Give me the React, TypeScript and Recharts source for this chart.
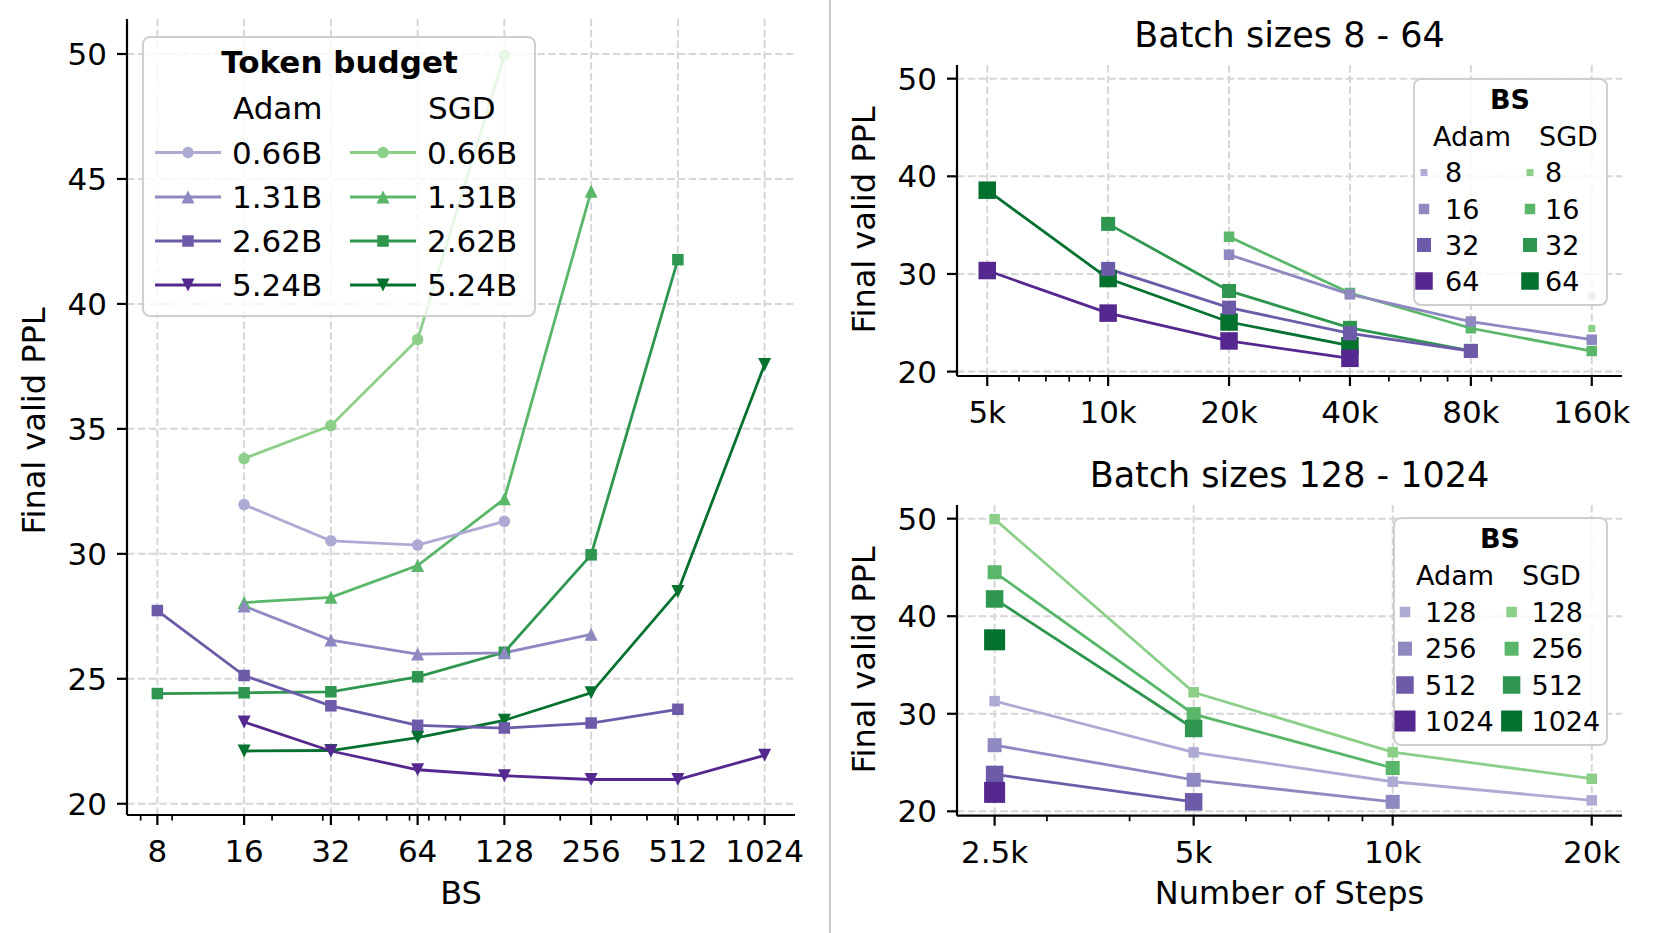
import React from 'react';
import { LineChart, Line, XAxis, YAxis, CartesianGrid } from 'recharts';

const FONT = '"DejaVu Sans", Verdana, sans-serif';
const TICK_FS = 31;
const GRID = '#d6d6d6';
const DASH = '7.5 3.3';

const ADAM_COLORS = ['#adabd3', '#8e89c1', '#6d5ba9', '#55288f'];
const SGD_COLORS = ['#8bcf89', '#5ab769', '#2e964f', '#05712f'];

// ---------- Left panel: PPL vs batch size ----------
const batchSizes = [8, 16, 32, 64, 128, 256, 512, 1024];
const batchMinorTicks = [7, 9, 20, 30, 40, 50, 60, 70, 80, 90, 200, 300, 400, 500, 600, 700, 800, 900];
const budgetLabels = ['0.66B', '1.31B', '2.62B', '5.24B'];
const pplTicks = [20, 25, 30, 35, 40, 45, 50];
const pplTicksRight = [20, 30, 40, 50];

const adamPPL066 = [null, 31.97, 30.52, 30.35, 31.3, null, null, null];
const adamPPL131 = [null, 27.91, 26.55, 25.99, 26.04, 26.78, null, null];
const adamPPL262 = [27.73, 25.13, 23.92, 23.14, 23.03, 23.23, 23.78, null];
const adamPPL524 = [null, 23.27, 22.11, 21.36, 21.12, 20.97, 20.97, 21.94];
const sgdPPL066 = [null, 33.81, 35.13, 38.58, 49.95, null, null, null];
const sgdPPL131 = [null, 28.05, 28.26, 29.53, 32.2, 44.51, null, null];
const sgdPPL262 = [24.41, 24.44, 24.48, 25.08, 26.06, 29.96, 41.77, null];
const sgdPPL524 = [null, 22.11, 22.13, 22.65, 23.34, 24.44, 28.49, 37.58];

const adamBudgetSeries = [adamPPL066, adamPPL131, adamPPL262, adamPPL524];
const sgdBudgetSeries = [sgdPPL066, sgdPPL131, sgdPPL262, sgdPPL524];

// ---------- Top right: batch sizes 8 - 64 ----------
const stepsTop = [5000, 10000, 20000, 40000, 80000, 160000];
const stepsTopLabels = ['5k', '10k', '20k', '40k', '80k', '160k'];
const stepsTopMinor = [6000, 7000, 8000, 9000, 30000, 50000, 60000, 70000, 90000];
const bsTop = ['8', '16', '32', '64'];
const adamTopBS8 = [null, null, null, null, null, 27.73];
const adamTopBS16 = [null, null, 31.97, 27.91, 25.13, 23.27];
const adamTopBS32 = [null, 30.52, 26.55, 23.92, 22.11, null];
const adamTopBS64 = [30.35, 25.99, 23.14, 21.36, null, null];
const sgdTopBS8 = [null, null, null, null, null, 24.41];
const sgdTopBS16 = [null, null, 33.81, 28.05, 24.44, 22.11];
const sgdTopBS32 = [null, 35.13, 28.26, 24.48, 22.13, null];
const sgdTopBS64 = [38.58, 29.53, 25.08, 22.65, null, null];

// ---------- Bottom right: batch sizes 128 - 1024 ----------
const stepsBottom = [2500, 5000, 10000, 20000];
const stepsBottomLabels = ['2.5k', '5k', '10k', '20k'];
const stepsBottomMinor = [3000, 4000, 6000, 7000, 8000, 9000];
const bsBottom = ['128', '256', '512', '1024'];
const adamBotBS128 = [31.3, 26.04, 23.03, 21.12];
const adamBotBS256 = [26.78, 23.23, 20.97, null];
const adamBotBS512 = [23.78, 20.97, null, null];
const adamBotBS1024 = [21.94, null, null, null];
const sgdBotBS128 = [49.95, 32.2, 26.06, 23.34];
const sgdBotBS256 = [44.51, 29.96, 24.44, null];
const sgdBotBS512 = [41.77, 28.49, null, null];
const sgdBotBS1024 = [37.58, null, null, null];

// styling (not data)
const budgetShapes = ['circle', 'triangle', 'square', 'triangleDown'];
const budgetMarkerSize = [11.5, 13, 11.5, 13];
const squareSizes = [7, 10.5, 14, 17.5];
const squareSizesBottom = [10.5, 14, 17.5, 21];
const Y_DOMAIN: [number, number] = [19.55, 51.4];

function Marker({ shape, cx, cy, size, color }: any) {
  const h = size / 2;
  if (shape === 'circle') return <circle cx={cx} cy={cy} r={h} fill={color} />;
  if (shape === 'square') return <rect x={cx - h} y={cy - h} width={size} height={size} fill={color} />;
  if (shape === 'triangle')
    return <polygon points={`${cx},${cy - h} ${cx - h},${cy + h} ${cx + h},${cy + h}`} fill={color} />;
  return <polygon points={`${cx},${cy + h} ${cx - h},${cy - h} ${cx + h},${cy - h}`} fill={color} />;
}

const dotRenderer = (shape: string, size: number, color: string) => (p: any) => {
  const k = `d${p.index}`;
  if (p.cx == null || p.cy == null || p.value == null || Number.isNaN(p.cy)) return <g key={k} />;
  return (
    <g key={k}>
      <Marker shape={shape} cx={p.cx} cy={p.cy} size={size} color={color} />
    </g>
  );
};

const makeXTick = (major: number[], labels: string[]) => (props: any) => {
  const { x, y, payload } = props;
  const idx = major.indexOf(payload.value);
  const isMajor = idx >= 0;
  return (
    <g>
      <line x1={x} x2={x} y1={y} y2={y + (isMajor ? 10 : 5.6)} stroke="#000" strokeWidth={isMajor ? 2.2 : 1.7} />
      {isMajor && (
        <text x={x} y={y + 47} textAnchor="middle" fontSize={TICK_FS} fontFamily={FONT} fill="#000">
          {labels[idx]}
        </text>
      )}
    </g>
  );
};

const yAxisProps = {
  type: 'number' as const,
  domain: Y_DOMAIN,
  allowDataOverflow: true,
  width: 60,
  tickSize: 10,
  tickMargin: 10,
  tick: { fontSize: TICK_FS, fill: '#000', fontFamily: FONT },
  tickLine: { stroke: '#000', strokeWidth: 2.2 },
  axisLine: { stroke: '#000', strokeWidth: 2.2 },
};

function toSeries(steps: number[], vals: (number | null)[]) {
  return steps.map((s, i) => ({ steps: s, ppl: vals[i] })).filter((d) => d.ppl != null);
}

function LeftChart() {
  const rows = batchSizes.map((bs, i) => {
    const r: any = { bs };
    adamBudgetSeries.forEach((s, j) => (r[`adam${j}`] = s[i]));
    sgdBudgetSeries.forEach((s, j) => (r[`sgd${j}`] = s[i]));
    return r;
  });
  const lo = 8 / Math.pow(2, 0.35);
  const hi = 1024 * Math.pow(2, 0.35);
  return (
    <LineChart width={830} height={933} data={rows} margin={{ top: 19, right: 35, bottom: 88, left: 67 }}>
      <CartesianGrid stroke={GRID} strokeDasharray={DASH} strokeWidth={2} verticalValues={batchSizes} horizontalValues={pplTicks} />
      <XAxis
        dataKey="bs"
        type="number"
        scale="log"
        domain={[lo, hi]}
        allowDataOverflow
        ticks={[...batchSizes, ...batchMinorTicks]}
        interval={0}
        tickSize={0}
        tickMargin={0}
        tickLine={false}
        tick={makeXTick(batchSizes, batchSizes.map(String))}
        axisLine={{ stroke: '#000', strokeWidth: 2.2 }}
        height={30}
      />
      <YAxis {...yAxisProps} ticks={pplTicks} />
      {sgdBudgetSeries.map((_, j) => (
        <Line
          key={`sgd${j}`}
          dataKey={`sgd${j}`}
          stroke={SGD_COLORS[j]}
          strokeWidth={2.8}
          isAnimationActive={false}
          activeDot={false}
          dot={dotRenderer(budgetShapes[j], budgetMarkerSize[j], SGD_COLORS[j])}
        />
      ))}
      {adamBudgetSeries.map((_, j) => (
        <Line
          key={`adam${j}`}
          dataKey={`adam${j}`}
          stroke={ADAM_COLORS[j]}
          strokeWidth={2.8}
          isAnimationActive={false}
          activeDot={false}
          dot={dotRenderer(budgetShapes[j], budgetMarkerSize[j], ADAM_COLORS[j])}
        />
      ))}
    </LineChart>
  );
}

function StepsChart({
  width, height, margin, steps, stepLabels, minor, domain, adam, sgd, sizes,
}: any) {
  return (
    <LineChart width={width} height={height} margin={margin}>
      <CartesianGrid stroke={GRID} strokeDasharray={DASH} strokeWidth={2} verticalValues={steps} horizontalValues={pplTicksRight} />
      <XAxis
        dataKey="steps"
        type="number"
        scale="log"
        domain={domain}
        allowDataOverflow
        ticks={[...steps, ...minor]}
        interval={0}
        tickSize={0}
        tickMargin={0}
        tickLine={false}
        tick={makeXTick(steps, stepLabels)}
        axisLine={{ stroke: '#000', strokeWidth: 2.2 }}
        height={30}
      />
      <YAxis {...yAxisProps} ticks={pplTicksRight} />
      {sgd.map((vals: any, j: number) => (
        <Line
          key={`sgd${j}`}
          data={toSeries(steps, vals)}
          dataKey="ppl"
          stroke={SGD_COLORS[j]}
          strokeWidth={2.8}
          isAnimationActive={false}
          activeDot={false}
          dot={dotRenderer('square', sizes[j], SGD_COLORS[j])}
        />
      ))}
      {adam.map((vals: any, j: number) => (
        <Line
          key={`adam${j}`}
          data={toSeries(steps, vals)}
          dataKey="ppl"
          stroke={ADAM_COLORS[j]}
          strokeWidth={2.8}
          isAnimationActive={false}
          activeDot={false}
          dot={dotRenderer('square', sizes[j], ADAM_COLORS[j])}
        />
      ))}
    </LineChart>
  );
}

function LeftLegend() {
  const rowsY = [152.5, 197, 241, 285];
  return (
    <g>
      <rect x={143} y={37} width={392} height={279} rx={7} fill="#fff" fillOpacity={0.8} stroke="#cfcfcf" strokeWidth={2} />
      <text x={339.5} y={73} textAnchor="middle" fontSize={31} fontWeight="bold" fontFamily={FONT}>Token budget</text>
      <text x={233} y={119} fontSize={31} fontFamily={FONT}>Adam</text>
      <text x={428} y={119} fontSize={31} fontFamily={FONT}>SGD</text>
      {budgetLabels.map((lab, j) => (
        <g key={lab}>
          <line x1={155} x2={221} y1={rowsY[j]} y2={rowsY[j]} stroke={ADAM_COLORS[j]} strokeWidth={2.8} />
          <Marker shape={budgetShapes[j]} cx={188} cy={rowsY[j]} size={budgetMarkerSize[j]} color={ADAM_COLORS[j]} />
          <text x={232} y={rowsY[j] + 11} fontSize={31} fontFamily={FONT}>{lab}</text>
          <line x1={350} x2={416} y1={rowsY[j]} y2={rowsY[j]} stroke={SGD_COLORS[j]} strokeWidth={2.8} />
          <Marker shape={budgetShapes[j]} cx={383} cy={rowsY[j]} size={budgetMarkerSize[j]} color={SGD_COLORS[j]} />
          <text x={427} y={rowsY[j] + 11} fontSize={31} fontFamily={FONT}>{lab}</text>
        </g>
      ))}
    </g>
  );
}

function BSLegend({ box, titleX, titleY, adamX, sgdX, headY, rowsY, adamMX, adamTX, sgdMX, sgdTX, labels, sizes }: any) {
  return (
    <g>
      <rect x={box[0]} y={box[1]} width={box[2]} height={box[3]} rx={7} fill="#fff" fillOpacity={0.8} stroke="#cfcfcf" strokeWidth={2} />
      <text x={titleX} y={titleY} textAnchor="middle" fontSize={27} fontWeight="bold" fontFamily={FONT}>BS</text>
      <text x={adamX} y={headY} fontSize={27} fontFamily={FONT}>Adam</text>
      <text x={sgdX} y={headY} fontSize={27} fontFamily={FONT}>SGD</text>
      {labels.map((lab: string, j: number) => (
        <g key={lab}>
          <Marker shape="square" cx={adamMX} cy={rowsY[j]} size={sizes[j]} color={ADAM_COLORS[j]} />
          <text x={adamTX} y={rowsY[j] + 9.7} fontSize={27} fontFamily={FONT}>{lab}</text>
          <Marker shape="square" cx={sgdMX} cy={rowsY[j]} size={sizes[j]} color={SGD_COLORS[j]} />
          <text x={sgdTX} y={rowsY[j] + 9.7} fontSize={27} fontFamily={FONT}>{lab}</text>
        </g>
      ))}
    </g>
  );
}

export default function App() {
  const topDomain = [5000 / Math.pow(2, 0.25), 160000 * Math.pow(2, 0.25)];
  const botDomain = [2500 / Math.pow(2, 0.189), 20000 * Math.pow(2, 0.152)];
  return (
    <div style={{ position: 'absolute', left: 0, top: 0, width: 1657, height: 933, background: '#fff', overflow: 'hidden', fontFamily: FONT }}>
      <div style={{ position: 'absolute', left: 0, top: 0 }}>
        <LeftChart />
      </div>
      <div style={{ position: 'absolute', left: 830, top: 0 }}>
        <StepsChart
          width={827}
          height={470}
          margin={{ top: 65, right: 35, bottom: 64, left: 67 }}
          steps={stepsTop}
          stepLabels={stepsTopLabels}
          minor={stepsTopMinor}
          domain={topDomain}
          adam={[adamTopBS8, adamTopBS16, adamTopBS32, adamTopBS64]}
          sgd={[sgdTopBS8, sgdTopBS16, sgdTopBS32, sgdTopBS64]}
          sizes={squareSizes}
        />
      </div>
      <div style={{ position: 'absolute', left: 830, top: 420 }}>
        <StepsChart
          width={827}
          height={513}
          margin={{ top: 85, right: 35, bottom: 87.3, left: 67 }}
          steps={stepsBottom}
          stepLabels={stepsBottomLabels}
          minor={stepsBottomMinor}
          domain={botDomain}
          adam={[adamBotBS128, adamBotBS256, adamBotBS512, adamBotBS1024]}
          sgd={[sgdBotBS128, sgdBotBS256, sgdBotBS512, sgdBotBS1024]}
          sizes={squareSizesBottom}
        />
      </div>
      <svg width={1657} height={933} style={{ position: 'absolute', left: 0, top: 0, pointerEvents: 'none' }}>
        <line x1={830} x2={830} y1={0} y2={933} stroke="#cccccc" strokeWidth={2} />
        <LeftLegend />
        <BSLegend
          box={[1414, 79, 193, 226]}
          titleX={1510}
          titleY={109}
          adamX={1433}
          sgdX={1539}
          headY={146}
          rowsY={[172.5, 209, 245, 281]}
          adamMX={1424}
          adamTX={1445}
          sgdMX={1530}
          sgdTX={1545}
          labels={bsTop}
          sizes={squareSizes}
        />
        <BSLegend
          box={[1394, 518, 213, 227]}
          titleX={1500}
          titleY={548}
          adamX={1416}
          sgdX={1522}
          headY={585}
          rowsY={[612, 648.7, 685, 721]}
          adamMX={1405}
          adamTX={1425}
          sgdMX={1511.6}
          sgdTX={1531.5}
          labels={bsBottom}
          sizes={squareSizesBottom}
        />
        <text x={1289.5} y={47} textAnchor="middle" fontSize={35} fontFamily={FONT}>Batch sizes 8 - 64</text>
        <text x={1289.5} y={487} textAnchor="middle" fontSize={35} fontFamily={FONT}>Batch sizes 128 - 1024</text>
        <text x={461} y={904} textAnchor="middle" fontSize={32} fontFamily={FONT}>BS</text>
        <text x={1289.5} y={904} textAnchor="middle" fontSize={32} fontFamily={FONT}>Number of Steps</text>
        <text x={45} y={421} textAnchor="middle" fontSize={32} fontFamily={FONT} transform="rotate(-90 45 421)">Final valid PPL</text>
        <text x={875} y={220} textAnchor="middle" fontSize={32} fontFamily={FONT} transform="rotate(-90 875 220)">Final valid PPL</text>
        <text x={875} y={660} textAnchor="middle" fontSize={32} fontFamily={FONT} transform="rotate(-90 875 660)">Final valid PPL</text>
      </svg>
    </div>
  );
}
